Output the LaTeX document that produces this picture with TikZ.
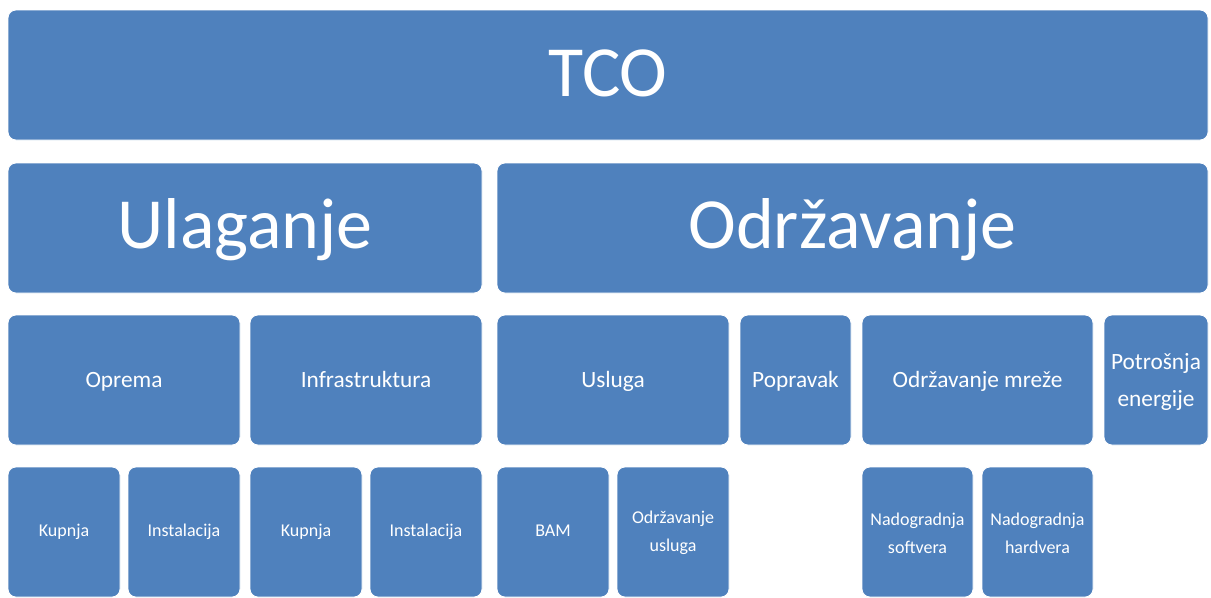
\documentclass[tikz,border=0pt]{standalone}
\usepackage{fontspec}
\setmainfont{Carlito}
\usepackage{tikz}
\usepackage{color}

\definecolor{tcoblue}{RGB}{79,129,189}

\begin{document}
\begin{tikzpicture}[x=0.75pt,y=0.75pt,yscale=-1,xscale=1,
  blok/.style={fill=tcoblue,draw=white,line width=0.6pt,rounded corners=6pt},
  naslov/.style={text=white,inner sep=0pt,anchor=base,font=\fontsize{54}{64}\selectfont},
  stavka/.style={text=white,inner sep=0pt,anchor=base,align=center,font=\fontsize{17.5}{28}\selectfont},
  podstavka/.style={text=white,inner sep=0pt,anchor=base,align=center,font=\fontsize{13.5}{21}\selectfont}]
%set diagram left start at 0, and has height of 597
\useasboundingbox (0,0) rectangle (1211,597);

%Shape: Rectangle [TCO]
\draw [blok] (8,10) rectangle (1208,140);
%Shape: Rectangle [Ulaganje]
\draw [blok] (8,163) rectangle (482,293);
%Shape: Rectangle [Odrzavanje]
\draw [blok] (497,163) rectangle (1208,293);

%Shape: Rectangle [third row]
\draw [blok] (8,315) rectangle (240,445);
\draw [blok] (250,315) rectangle (482,445);
\draw [blok] (497,315) rectangle (729,445);
\draw [blok] (740,315) rectangle (851,445);
\draw [blok] (862,315) rectangle (1093,445);
\draw [blok] (1104,315) rectangle (1208,445);

%Shape: Rectangle [fourth row]
\draw [blok] (8,467) rectangle (120,597);
\draw [blok] (128,467) rectangle (240,597);
\draw [blok] (250,467) rectangle (362,597);
\draw [blok] (370,467) rectangle (482,597);
\draw [blok] (497,467) rectangle (609,597);
\draw [blok] (617,467) rectangle (729,597);
\draw [blok] (862,467) rectangle (973,597);
\draw [blok] (982,467) rectangle (1093,597);

% Text Node
\node [naslov] (tco) at (608,96) {TCO};
% Text Node
\node [naslov] (ulaganje) at (245,248) {Ulaganje};
% Text Node
\node [naslov] (odrzavanje) at (852.5,248) {Održavanje};

% Text Node
\node [stavka] (oprema) at (124,387) {Oprema};
% Text Node
\node [stavka] (infra) at (366,387) {Infrastruktura};
% Text Node
\node [stavka] (usluga) at (613,387) {Usluga};
% Text Node
\node [stavka] (popravak) at (795.5,387) {Popravak};
% Text Node
\node [stavka] (mreza) at (977.5,387) {Održavanje mreže};
% Text Node
\node [stavka,anchor=center] (energija) at (1156,382) {Potrošnja\\energije};

% Text Node
\node [podstavka] (kupnjaA) at (64,536) {Kupnja};
% Text Node
\node [podstavka] (instalA) at (184,536) {Instalacija};
% Text Node
\node [podstavka] (kupnjaB) at (306,536) {Kupnja};
% Text Node
\node [podstavka] (instalB) at (426,536) {Instalacija};
% Text Node
\node [podstavka] (bam) at (553,536) {BAM};
% Text Node
\node [podstavka,anchor=center] (odrzUsl) at (673,533) {Održavanje\\usluga};
% Text Node
\node [podstavka,anchor=center] (softver) at (917.5,533) {Nadogradnja\\softvera};
% Text Node
\node [podstavka,anchor=center] (hardver) at (1037.5,533) {Nadogradnja\\hardvera};

\end{tikzpicture}
\end{document}
